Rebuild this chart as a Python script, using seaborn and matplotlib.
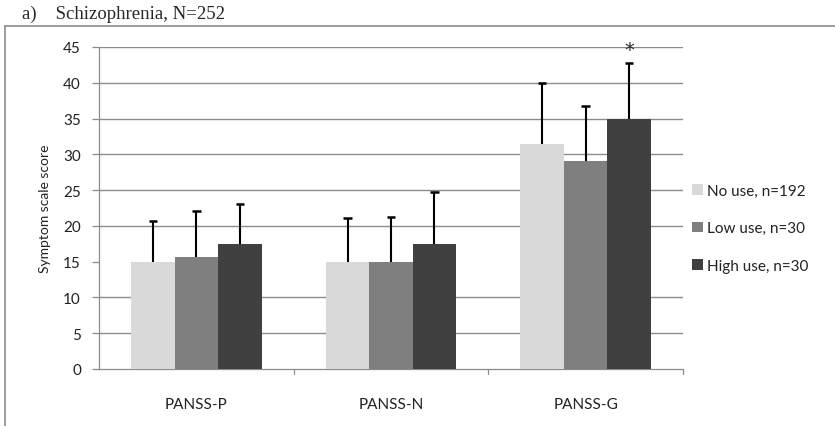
import matplotlib
matplotlib.use("Agg")
import matplotlib.pyplot as plt
from matplotlib.lines import Line2D
import seaborn as sns
import pandas as pd
import numpy as np

categories = ["PANSS-P", "PANSS-N", "PANSS-G"]
groups = ["No use, n=192", "Low use, n=30", "High use, n=30"]
no_use = [15.0, 15.0, 31.4]
low_use = [15.6, 15.0, 29.1]
high_use = [17.5, 17.4, 35.0]
no_use_sd = [5.7, 6.1, 8.5]
low_use_sd = [6.5, 6.2, 7.6]
high_use_sd = [5.6, 7.4, 7.7]
colors = ["#D9D9D9", "#7F7F7F", "#404040"]
yticks = [0, 5, 10, 15, 20, 25, 30, 35, 40, 45]

sns.set_style("white")
plt.rcParams["font.family"] = ["Lato", "DejaVu Sans"]

rows = []
for g, vals, sds in zip(groups, [no_use, low_use, high_use], [no_use_sd, low_use_sd, high_use_sd]):
    for c, v, s in zip(categories, vals, sds):
        rows.append({"cat": c, "group": g, "score": v, "sd": s})
df = pd.DataFrame(rows)

fig = plt.figure(figsize=(8.35, 4.27), dpi=100)
ax = fig.add_axes([99/835, 1-370/427, (683-99)/835, (370-48)/427])

sns.barplot(data=df, x="cat", y="score", hue="group", hue_order=groups,
            order=categories, palette=colors, errorbar=None, width=0.67,
            saturation=1, ax=ax, edgecolor="none", linewidth=0, zorder=3)

# error bars (upper only) at bar centers
cap = 0.022
for container, g in zip(ax.containers, groups):
    sub = df[df.group == g].set_index("cat").loc[categories]
    xs = np.array([p.get_x() + p.get_width()/2 for p in container.patches])
    lo = sub["score"].values
    hi_ = lo + sub["sd"].values
    ax.vlines(xs, lo, hi_, color="black", lw=1.5, zorder=4)
    ax.hlines(hi_, xs - cap, xs + cap, color="black", lw=1.8, zorder=4)

# star above high use PANSS-G
hi = ax.containers[2].patches[2]
ax.text(hi.get_x() + hi.get_width()/2, 44.6, "*", ha="center", va="center",
        fontsize=14, family="DejaVu Sans", zorder=5)

ax.set_ylim(0, 45)
ax.set_xlim(-0.5, 2.5)
ax.set_yticks(yticks)
ax.set_yticklabels([str(t) for t in yticks], fontsize=11, color="#222222")
for t in yticks:
    if t not in (0, 15):
        ax.axhline(t, color="#8C8C8C", lw=1.0, zorder=1)

ax.set_xticks([0, 1, 2])
ax.set_xticklabels(categories, fontsize=11, color="#222222")
ax.tick_params(axis="x", length=0, pad=20)
ax.tick_params(axis="y", length=5, width=0.9, color="#8C8C8C", direction="out", pad=8, left=True)
# category boundary ticks
for xb in [0.5, 1.5, 2.5]:
    ax.plot([xb, xb], [0, -0.7], color="#8C8C8C", lw=0.9, clip_on=False, zorder=2)

ax.set_xlabel("")
ax.set_ylabel("Symptom scale score", fontsize=10, color="#222222", labelpad=9)

for s in ["top", "right"]:
    ax.spines[s].set_visible(False)
ax.spines["left"].set_color("#8C8C8C")
ax.spines["bottom"].set_color("#8C8C8C")
ax.spines["left"].set_linewidth(0.9)
ax.spines["bottom"].set_linewidth(0.9)

leg = ax.legend(loc="upper left", bbox_to_anchor=(1.005, 0.595), frameon=False,
                fontsize=11, handlelength=0.7, handleheight=0.7, handletextpad=0.3,
                labelspacing=1.55, borderaxespad=0)
for t in leg.get_texts():
    t.set_color("#222222")

# outer chart border lines (left and top)
fig.add_artist(Line2D([5/835, 5/835], [0, 1-27/427], color="#8C8C8C", lw=1.2))
fig.add_artist(Line2D([5/835, 1], [1-27/427, 1-27/427], color="#8C8C8C", lw=1.2))

fig.text(22/835, 1-14/427, "a)    Schizophrenia, N=252", family="Liberation Serif",
         fontsize=13.5, va="center", ha="left")

fig.savefig("out.png", dpi=100)
